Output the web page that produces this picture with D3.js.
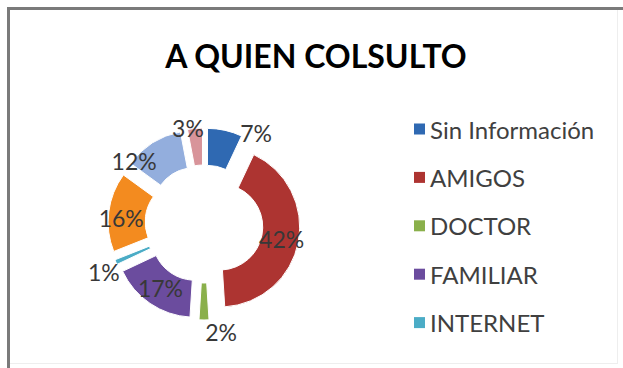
<!DOCTYPE html>
<html>
<head>
<meta charset="utf-8">
<script src="https://cdn.jsdelivr.net/npm/d3@7"></script>
<style>
  html, body { margin: 0; padding: 0; background: #fff; }
  svg { display: block; }
</style>
</head>
<body>
<svg id="chart" width="623" height="368"></svg>
<script>
// ---- data ----
const title = "A QUIEN COLSULTO";
const categories = ["Sin Información", "AMIGOS", "DOCTOR", "FAMILIAR", "INTERNET", "Otro 6", "Otro 7", "Otro 8"];
const values = [7, 42, 2, 17, 1, 16, 12, 3];
const labels = ["7%", "42%", "2%", "17%", "1%", "16%", "12%", "3%"];
const legendShown = 5;

// ---- style / layout ----
const colors = ["#2F69B2", "#AD3431", "#8AB04B", "#6B4C9E", "#4BACC6", "#F38B1F", "#93AEDD", "#D8949A"];
const W = 623, H = 368;
const cx = 204, cy = 224, rOuter = 80, rInner = 43, explode = 16;
// label placement: null => slice centroid; otherwise [angleDeg, radius] from donut centre
const labelPlace = [[29.7, 105], [100.8, 79], [171, 109], null, [244.4, 111], [274, 83], [312, 94], [350.5, 97]];

const svg = d3.select("#chart");

// frame
svg.append("rect").attr("x", 8.5).attr("y", 8.5).attr("width", 609).attr("height", 355)
  .attr("fill", "#fff").attr("stroke", "#eeeeee").attr("stroke-width", 1);
svg.append("path").attr("d", `M8.5,${H} L8.5,8.5 L${W},8.5`)
  .attr("fill", "none").attr("stroke", "#7a7a7a").attr("stroke-width", 3);

// title
svg.append("text").attr("x", 316).attr("y", 55)
  .attr("text-anchor", "middle").attr("dominant-baseline", "central")
  .style("font-family", "Lato, 'Open Sans', sans-serif").style("font-weight", "bold")
  .style("font-size", "32px").attr("fill", "#000").text(title);

const pie = d3.pie().sort(null).value(d => d)(values);
const arc = d3.arc().innerRadius(rInner).outerRadius(rOuter);

const g = svg.append("g").attr("transform", `translate(${cx},${cy})`);
g.selectAll("path.slice").data(pie).enter().append("path")
  .attr("class", "slice")
  .attr("transform", d => {
    const a = (d.startAngle + d.endAngle) / 2;
    return `translate(${explode * Math.sin(a)},${-explode * Math.cos(a)})`;
  })
  .attr("d", arc)
  .attr("fill", (d, i) => colors[i])
  .attr("stroke", "#fff").attr("stroke-width", 1);

g.selectAll("text.lbl").data(pie).enter().append("text")
  .attr("class", "lbl")
  .attr("transform", (d, i) => {
    let x, y;
    if (labelPlace[i]) {
      const a = labelPlace[i][0] * Math.PI / 180, r = labelPlace[i][1];
      x = r * Math.sin(a); y = -r * Math.cos(a);
    } else {
      const a = (d.startAngle + d.endAngle) / 2;
      const c = arc.centroid(d);
      x = c[0] + explode * Math.sin(a); y = c[1] - explode * Math.cos(a);
    }
    return `translate(${x},${y})`;
  })
  .attr("text-anchor", "middle").attr("dominant-baseline", "central")
  .style("font-family", "Lato, 'Open Sans', sans-serif").style("font-size", "23px")
  .attr("fill", "#383838")
  .text((d, i) => labels[i]);

// legend
const leg = svg.append("g");
const rows = leg.selectAll("g").data(categories.slice(0, legendShown)).enter().append("g")
  .attr("transform", (d, i) => `translate(414,${129 + i * 48.4})`);
rows.append("rect").attr("x", 0).attr("y", -5.5).attr("width", 11).attr("height", 11)
  .attr("fill", (d, i) => colors[i]);
rows.append("text").attr("x", 16).attr("y", 0).attr("dominant-baseline", "central")
  .style("font-family", "Lato, 'Open Sans', sans-serif").style("font-size", "24px")
  .attr("fill", "#404040").text(d => d);
</script>
</body>
</html>
